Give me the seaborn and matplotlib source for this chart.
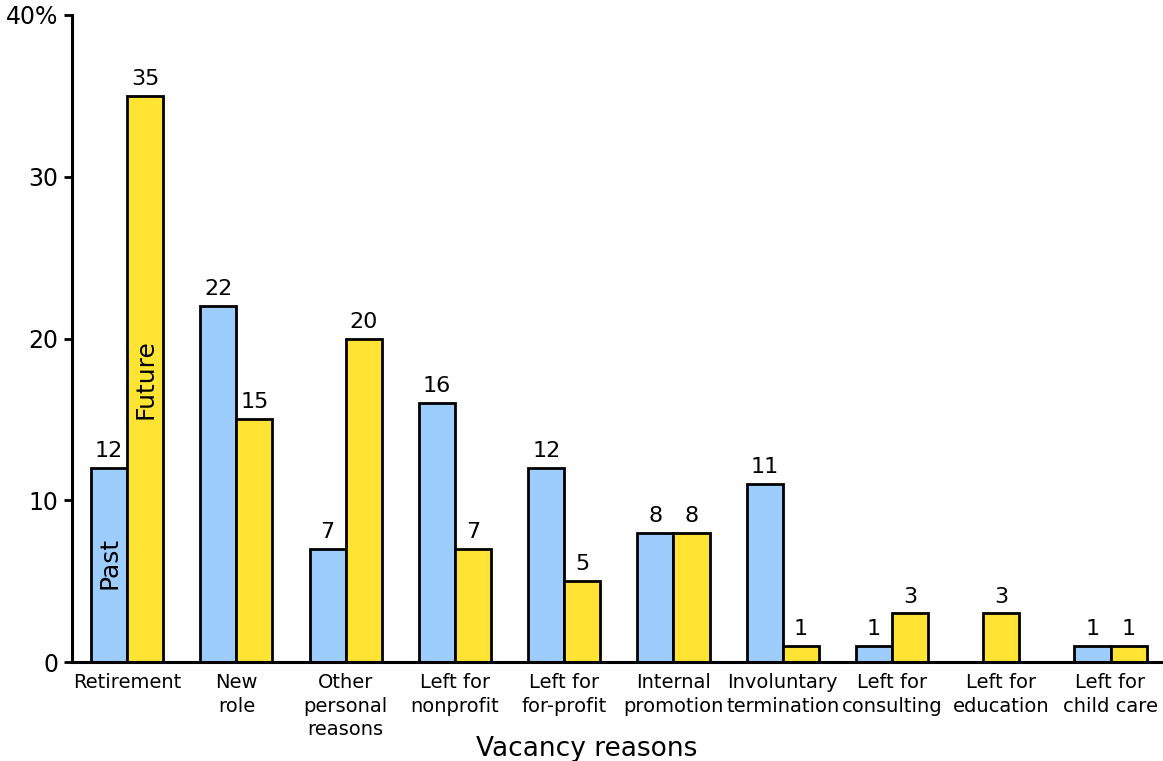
import matplotlib
matplotlib.use('Agg')
import matplotlib.pyplot as plt
import seaborn as sns
import pandas as pd

# ---- data ----
categories = ['Retirement', 'New\nrole', 'Other\npersonal\nreasons', 'Left for\nnonprofit',
              'Left for\nfor-profit', 'Internal\npromotion', 'Involuntary\ntermination',
              'Left for\nconsulting', 'Left for\neducation', 'Left for\nchild care']
past = [12, 22, 7, 16, 12, 8, 11, 1, None, 1]
future = [35, 15, 20, 7, 5, 8, 1, 3, 3, 1]
y_ticks = [0, 10, 20, 30, 40]
y_ticklabels = ['0', '10', '20', '30', '40%']

BLUE = '#9dcdfd'
YELLOW = '#ffe433'

sns.set_theme(style='white')
plt.rcParams['font.family'] = ['DejaVu Sans']
plt.rcParams.update({'text.color': 'black', 'axes.labelcolor': 'black',
                     'xtick.color': 'black', 'ytick.color': 'black'})

rows = []
for c, p, f in zip(categories, past, future):
    if p is not None:
        rows.append({'reason': c, 'when': 'Past', 'pct': p})
        rows.append({'reason': c, 'when': 'Future', 'pct': f})
df = pd.DataFrame(rows)
# categories with only one series are drawn centred on their slot
single = pd.DataFrame([{'reason': c, 'pct': f} for c, p, f in zip(categories, past, future) if p is None])

fig = plt.figure(figsize=(11.63, 7.61), dpi=100)
ax = fig.add_axes([72 / 1163, 1 - 662 / 761, (1163 - 72) / 1163, (662 - 15) / 761])

sns.barplot(data=df, x='reason', y='pct', hue='when', order=categories,
            hue_order=['Past', 'Future'], palette=[BLUE, YELLOW], width=0.66,
            edgecolor='black', linewidth=2.0, saturation=1, errorbar=None,
            legend=False, ax=ax)
sns.barplot(data=single, x='reason', y='pct', order=categories, color=YELLOW,
            width=0.33, edgecolor='black', linewidth=2.0, saturation=1,
            errorbar=None, ax=ax)

for cont in ax.containers:
    ax.bar_label(cont, fmt='%g', padding=5, fontsize=16, color='black')

# in-bar series names on the first group
ax.text(-0.165, 6.1, 'Past', rotation=90, ha='center', va='center', fontsize=18)
ax.text(0.165, 17.5, 'Future', rotation=90, ha='center', va='center', fontsize=18)

ax.set_xlim(-0.505, 9.48)
ax.set_ylim(0, 40)
ax.set_yticks(y_ticks)
ax.set_yticklabels(y_ticklabels, fontsize=17)
ax.tick_params(axis='x', length=0, labelsize=14, pad=8)
ax.tick_params(axis='y', length=6, width=2, direction='out', left=True, pad=4)
ax.set_xlabel('Vacancy reasons', fontsize=19)
ax.xaxis.set_label_coords(0.472, -0.115)
ax.set_ylabel('')
for lbl in ax.get_xticklabels():
    lbl.set_linespacing(1.3)

for s in ['top', 'right']:
    ax.spines[s].set_visible(False)
for s in ['left', 'bottom']:
    ax.spines[s].set_linewidth(2.2)
    ax.spines[s].set_color('black')

fig.savefig('out.png', dpi=100, facecolor='white')
